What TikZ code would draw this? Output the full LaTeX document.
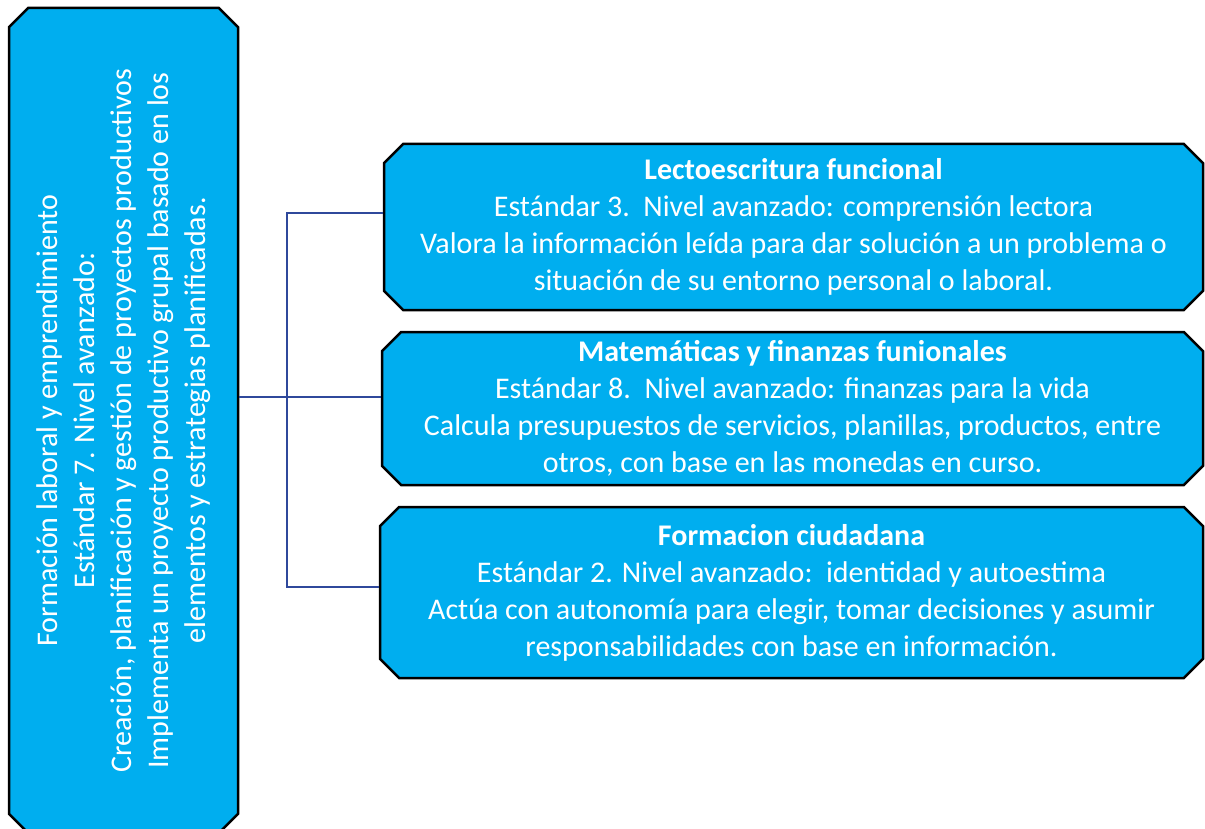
\documentclass[tikz,border=0pt]{standalone}
\usepackage{fontspec}
\setmainfont{Carlito}
\usetikzlibrary{shapes.misc}
\definecolor{boxblue}{RGB}{0,174,239}
\definecolor{linkblue}{RGB}{47,72,155}
\tikzset{link/.style={draw=linkblue,line width=2pt}}
\begin{document}
\begin{tikzpicture}[x=1pt,y=-1pt]
	\useasboundingbox (0,0) rectangle (1205,829);
	\begin{scope}[every node/.style={chamfered rectangle,chamfered rectangle xsep=16pt,draw=black,line width=2.5pt,fill=boxblue,text=white,align=center,inner sep=0pt,font=\fontsize{30}{37}\selectfont}]
		\node[rotate=90,minimum width=825pt,minimum height=229pt] (F) at (123.5,420.5) {Formación laboral y emprendimiento\\ Estándar 7. Nivel avanzado:\\ Creación, planificación y gestión de proyectos productivos\\ Implementa un proyecto productivo grupal basado en los\\ elementos y estrategias planificadas.};
		\node[minimum width=819pt,minimum height=166pt] (L) at (793.5,227) {\textbf{Lectoescritura funcional}\\ Estándar 3.\ \ Nivel avanzado: comprensión lectora\\ Valora la información leída para dar solución a un problema o\\ situación de su entorno personal o laboral.};
		\node[minimum width=821pt,minimum height=153pt] (M) at (792.5,408.5) {\textbf{Matemáticas y finanzas funionales}\\ Estándar 8.\ \ Nivel avanzado: finanzas para la vida\\ Calcula presupuestos de servicios, planillas, productos, entre\\ otros, con base en las monedas en curso.};
		\node[minimum width=823pt,minimum height=171pt] (C) at (791.5,592.5) {\textbf{Formacion ciudadana}\\ Estándar 2. Nivel avanzado:\ \ identidad y autoestima\\ Actúa con autonomía para elegir, tomar decisiones y asumir\\ responsabilidades con base en información.};
	\end{scope}
	
	\coordinate (j1) at (287,213);
	\coordinate (j2) at (287,397);
	\coordinate (j3) at (287,587);
	\draw[link] (L.west |- j1) -- (j1) -- (j3) -- (C.west |- j3);
	\draw[link] (F.south |- j2) -- (M.west |- j2);
\end{tikzpicture}
\end{document}
